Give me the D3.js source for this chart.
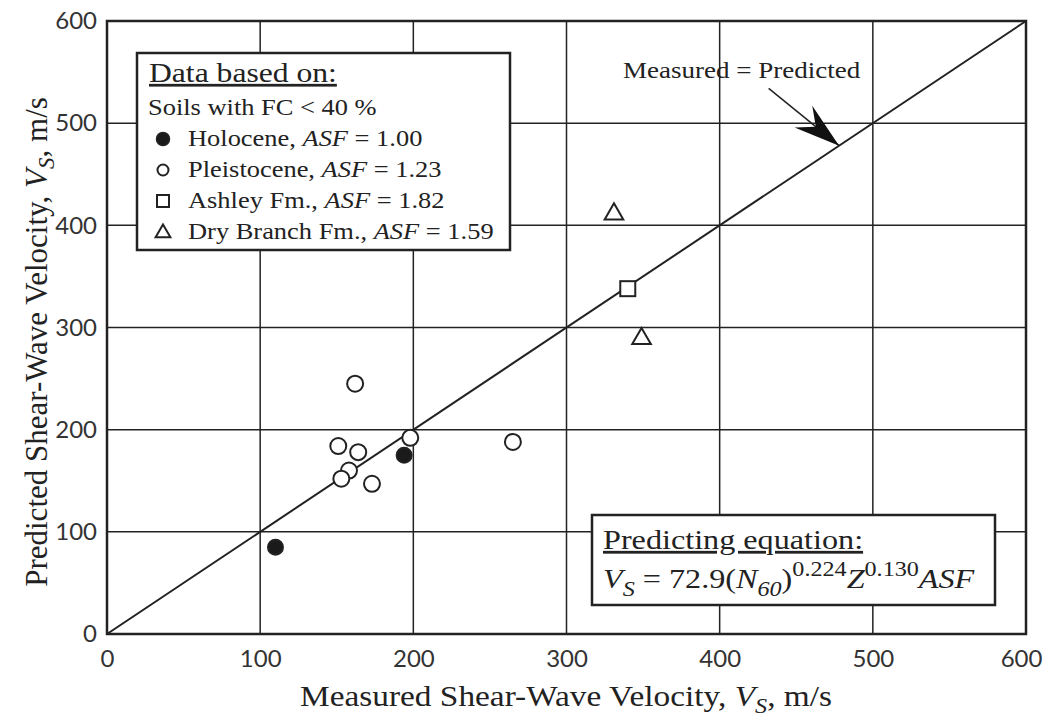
<!DOCTYPE html>
<html>
<head>
<meta charset="utf-8">
<script src="https://cdn.jsdelivr.net/npm/d3@7"></script>
<style>
  body { margin: 0; background: #fff; }
  svg { display: block; }
  .serif { font-family: "Liberation Serif", "Times New Roman", serif; fill: #222; }
  .tick-lbl { font-family: "Lato", "Open Sans", sans-serif; fill: #333; font-size: 24px; }
</style>
</head>
<body>
<svg id="chart" width="1045" height="721"></svg>
<script>
// values (m/s)
const holoceneX = [110, 194];
const holoceneY = [85, 175];
const pleistoceneX = [162, 151, 164, 198, 265, 158, 153, 173];
const pleistoceneY = [245, 184, 178, 192, 188, 160, 152, 147];
const ashleyX = [340];
const ashleyY = [338];
const dryBranchX = [331, 349];
const dryBranchY = [412, 290];
const tickValues = [0, 100, 200, 300, 400, 500, 600];
const legendNames = ["Holocene, ", "Pleistocene, ", "Ashley Fm., ", "Dry Branch Fm., "];
const legendASF = [" = 1.00", " = 1.23", " = 1.82", " = 1.59"];

const svg = d3.select("#chart");
const ink = "#222";
const SX = 1.15; // the scanned lettering is a bit wide

const x = d3.scaleLinear().domain([0, 600]).range([107, 1026]);
const y = d3.scaleLinear().domain([0, 600]).range([634, 21]);

// text placed at (px,py), stretched sideways
function wideText(px, py, size, anchor) {
  return svg.append("g").attr("transform", `translate(${px},${py}) scale(${SX},1)`)
    .append("text").attr("class", "serif").attr("font-size", size)
    .attr("text-anchor", anchor || "start");
}

// grid lines
svg.append("g").selectAll("line.v")
  .data(tickValues.slice(1, -1)).enter().append("line")
  .attr("x1", d => x(d)).attr("x2", d => x(d))
  .attr("y1", y(0)).attr("y2", y(600))
  .attr("stroke", ink).attr("stroke-width", 1.5);
svg.append("g").selectAll("line.h")
  .data(tickValues.slice(1, -1)).enter().append("line")
  .attr("y1", d => y(d)).attr("y2", d => y(d))
  .attr("x1", x(0)).attr("x2", x(600))
  .attr("stroke", ink).attr("stroke-width", 1.5);

// frame
svg.append("rect")
  .attr("x", x(0)).attr("y", y(600))
  .attr("width", x(600) - x(0)).attr("height", y(0) - y(600))
  .attr("fill", "none").attr("stroke", ink).attr("stroke-width", 2.5);

// tick labels via axes
const xAxis = svg.append("g").attr("transform", `translate(0,${y(0)})`)
  .call(d3.axisBottom(x).tickValues(tickValues).tickSize(0).tickPadding(16));
const yAxis = svg.append("g").attr("transform", `translate(${x(0)},0)`)
  .call(d3.axisLeft(y).tickValues(tickValues).tickSize(0).tickPadding(10));
[xAxis, yAxis].forEach(g => {
  g.select(".domain").remove();
  g.selectAll("text").attr("class", "tick-lbl").attr("fill", null);
});
xAxis.selectAll(".tick text").filter(d => d === 600).attr("dx", -5);

// 1:1 line
svg.append("line")
  .attr("x1", x(0)).attr("y1", y(0)).attr("x2", x(600)).attr("y2", y(600))
  .attr("stroke", ink).attr("stroke-width", 2);

// annotation arrow
const tail = [x(432), y(534)], tip = [x(478), y(478)];
svg.append("line")
  .attr("x1", tail[0]).attr("y1", tail[1]).attr("x2", tip[0]).attr("y2", tip[1])
  .attr("stroke", ink).attr("stroke-width", 1.5);
(function () {
  const dx = tip[0] - tail[0], dy = tip[1] - tail[1], L = Math.hypot(dx, dy);
  const ux = dx / L, uy = dy / L, px = -uy, py = ux;
  const len = 46, hw = 14, notch = 30;
  const bx = tip[0] - ux * len, by = tip[1] - uy * len;
  const nx = tip[0] - ux * notch, ny = tip[1] - uy * notch;
  svg.append("path")
    .attr("d", `M${tip[0]},${tip[1]} L${bx + px * hw},${by + py * hw} L${nx},${ny} L${bx - px * hw},${by - py * hw} Z`)
    .attr("fill", "#111");
})();
wideText(623, 78, 23.5).text("Measured = Predicted");

// points
function addCircles(xs, ys, filled, r) {
  svg.append("g").selectAll("circle")
    .data(xs.map((d, i) => [d, ys[i]])).enter().append("circle")
    .attr("cx", d => x(d[0])).attr("cy", d => y(d[1])).attr("r", r)
    .attr("fill", filled ? "#1a1a1a" : "#fff")
    .attr("stroke", ink).attr("stroke-width", 2);
}
addCircles(pleistoceneX, pleistoceneY, false, 8);
addCircles(holoceneX, holoceneY, true, 7.5);
svg.append("g").selectAll("rect")
  .data(ashleyX.map((d, i) => [d, ashleyY[i]])).enter().append("rect")
  .attr("x", d => x(d[0]) - 7.5).attr("y", d => y(d[1]) - 7.5)
  .attr("width", 15).attr("height", 15)
  .attr("fill", "#fff").attr("stroke", ink).attr("stroke-width", 2);
const tri = d3.symbol().type(d3.symbolTriangle).size(150);
svg.append("g").selectAll("path")
  .data(dryBranchX.map((d, i) => [d, dryBranchY[i]])).enter().append("path")
  .attr("d", tri)
  .attr("transform", d => `translate(${x(d[0])},${y(d[1]) + 1})`)
  .attr("fill", "#fff").attr("stroke", ink).attr("stroke-width", 2);

// legend box
svg.append("rect").attr("x", 137).attr("y", 53).attr("width", 373).attr("height", 197)
  .attr("fill", "#fff").attr("stroke", ink).attr("stroke-width", 2.5);
wideText(149, 82, 27.5).attr("text-decoration", "underline").text("Data based on:");
wideText(148, 115, 23).text("Soils with FC < 40 %");
const legendY = [146, 177, 208, 239];
legendNames.forEach((name, i) => {
  const t = wideText(188, legendY[i], 23);
  t.append("tspan").text(name);
  t.append("tspan").attr("font-style", "italic").text("ASF");
  t.append("tspan").text(legendASF[i]);
});
const lg = svg.append("g");
const my = legendY.map(v => v - 7);
lg.append("circle").attr("cx", 163).attr("cy", my[0]).attr("r", 6.5).attr("fill", "#1a1a1a").attr("stroke", ink).attr("stroke-width", 1.5);
lg.append("circle").attr("cx", 163).attr("cy", my[1]).attr("r", 5.5).attr("fill", "#fff").attr("stroke", ink).attr("stroke-width", 2);
lg.append("rect").attr("x", 157).attr("y", my[2] - 6).attr("width", 12).attr("height", 12).attr("fill", "#fff").attr("stroke", ink).attr("stroke-width", 2);
lg.append("path").attr("d", d3.symbol().type(d3.symbolTriangle).size(95)).attr("transform", `translate(163,${my[3] + 1})`)
  .attr("fill", "#fff").attr("stroke", ink).attr("stroke-width", 2);

// equation box
svg.append("rect").attr("x", 592).attr("y", 515).attr("width", 403).attr("height", 90)
  .attr("fill", "#fff").attr("stroke", ink).attr("stroke-width", 2.5);
wideText(603, 549, 28).attr("text-decoration", "underline").text("Predicting equation:");
const eq = wideText(603, 588, 28);
eq.append("tspan").attr("font-style", "italic").text("V");
eq.append("tspan").attr("font-style", "italic").attr("font-size", 21).attr("dy", 8).text("S");
eq.append("tspan").attr("dy", -8).text(" = 72.9(");
eq.append("tspan").attr("font-style", "italic").text("N");
eq.append("tspan").attr("font-style", "italic").attr("font-size", 21).attr("dy", 8).text("60");
eq.append("tspan").attr("dy", -8).text(")");
eq.append("tspan").attr("font-size", 21).attr("dy", -12).text("0.224");
eq.append("tspan").attr("font-style", "italic").attr("dy", 12).text("Z");
eq.append("tspan").attr("font-size", 21).attr("dy", -12).text("0.130");
eq.append("tspan").attr("font-style", "italic").attr("dy", 12).text("ASF");

// axis titles
const xt = wideText(566, 706, 29, "middle");
xt.append("tspan").text("Measured Shear-Wave Velocity, ");
xt.append("tspan").attr("font-style", "italic").text("V");
xt.append("tspan").attr("font-style", "italic").attr("font-size", 21).attr("dy", 7).text("S");
xt.append("tspan").attr("dy", -7).text(", m/s");

const yt = svg.append("text").attr("class", "serif")
  .attr("transform", "translate(47,342) rotate(-90)")
  .attr("text-anchor", "middle").attr("font-size", 31);
yt.append("tspan").text("Predicted Shear-Wave Velocity, ");
yt.append("tspan").attr("font-style", "italic").text("V");
yt.append("tspan").attr("font-style", "italic").attr("font-size", 23).attr("dy", 7).text("S");
yt.append("tspan").attr("dy", -7).text(", m/s");
</script>
</body>
</html>
